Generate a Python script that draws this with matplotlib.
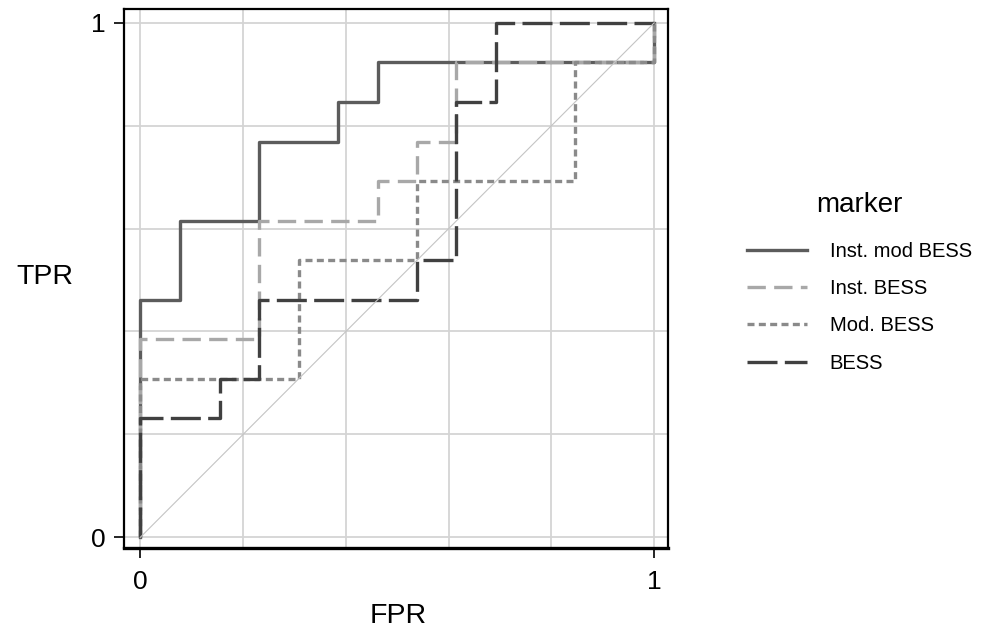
import matplotlib
matplotlib.use("Agg")
import matplotlib.pyplot as plt

plt.rcParams['font.family'] = ['Liberation Sans', 'DejaVu Sans']

# ROC points (false positive rate, true positive rate)
inst_mod_fpr = [0, 0, 0.077, 0.231, 0.385, 0.462, 1]
inst_mod_tpr = [0, 0.462, 0.615, 0.769, 0.846, 0.923, 1]

inst_fpr = [0, 0, 0.231, 0.462, 0.538, 0.615, 1]
inst_tpr = [0, 0.385, 0.615, 0.692, 0.769, 0.923, 1]

mod_fpr = [0, 0, 0.308, 0.538, 0.846, 1]
mod_tpr = [0, 0.308, 0.538, 0.692, 0.923, 1]

bess_fpr = [0, 0, 0.154, 0.231, 0.538, 0.615, 0.692, 1]
bess_tpr = [0, 0.231, 0.308, 0.462, 0.538, 0.846, 1, 1]

series_labels = ['Inst. mod BESS', 'Inst. BESS', 'Mod. BESS', 'BESS']
ticks = [0, 1]
grid_vals = [0, 0.2, 0.4, 0.6, 0.8, 1]

fig = plt.figure(figsize=(9.84, 6.39), dpi=100)
ax = fig.add_axes([124 / 984, 1 - 548 / 639, 544 / 984, 539 / 639])

for g in grid_vals:
    ax.axvline(g, color='#d4d4d4', lw=1.3, zorder=0)
    ax.axhline(g, color='#d4d4d4', lw=1.3, zorder=0)

lw = 2.4
ax.step(inst_mod_fpr, inst_mod_tpr, where='post', color='#5c5c5c', lw=lw,
        label=series_labels[0])
ax.step(inst_fpr, inst_tpr, where='post', color='#a8a8a8', lw=lw,
        linestyle=(0, (5.5, 2.5)), label=series_labels[1])
ax.step(mod_fpr, mod_tpr, where='post', color='#8a8a8a', lw=lw,
        linestyle=(0, (2.1, 1.3)), label=series_labels[2])
ax.step(bess_fpr, bess_tpr, where='post', color='#404040', lw=lw,
        linestyle=(0, (9, 2.2)), label=series_labels[3])

# reference line
ax.plot([0, 1], [0, 1], color='#c4c4c4', lw=0.8)

ax.set_xlim(-0.032, 1.027)
ax.set_ylim(-0.021, 1.027)
ax.set_xticks(ticks)
ax.set_yticks(ticks)
ax.set_xticklabels(['0', '1'])
ax.set_yticklabels(['0', '1'])
ax.tick_params(axis='both', labelsize=19, length=7, width=1.2, pad=6,
               direction='out')
ax.tick_params(axis='x', pad=9)
for s in ax.spines.values():
    s.set_linewidth(1.6)
    s.set_color('black')
ax.spines['bottom'].set_linewidth(2.4)

fig.text(45 / 984, 1 - 277 / 639, 'TPR', fontsize=20.5, ha='center', va='center')
fig.text(398 / 984, 1 - 616 / 639, 'FPR', fontsize=20.5, ha='center', va='center')

leg = fig.legend(loc='upper left', bbox_to_anchor=(747 / 984, 1 - 192 / 639),
                 frameon=False, title='marker', fontsize=14.5,
                 title_fontsize=20, handlelength=3.0, handletextpad=1.1,
                 labelspacing=0.91, borderpad=0, borderaxespad=0)
leg._legend_box.sep = 17

fig.savefig('out.png', dpi=100)
